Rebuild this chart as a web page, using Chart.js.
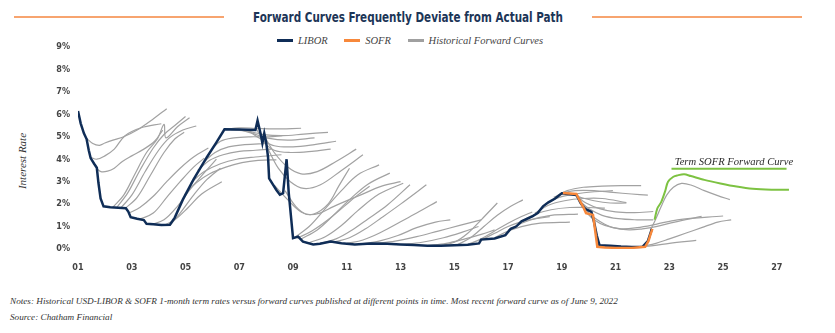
<!DOCTYPE html>
<html>
<head>
<meta charset="utf-8">
<script src="https://cdn.jsdelivr.net/npm/chart.js@4.4.0/dist/chart.umd.min.js"></script>
<style>
  body { margin: 0; width: 835px; height: 333px; background: #fff; position: relative; overflow: hidden; }
  .rule { position: absolute; top: 16px; height: 2px; background: #f7a46f; width: 210px; }
  #title { position: absolute; top: 8px; left: 408px; white-space: nowrap; transform-origin: 0 50%;
           font: bold 14px "Liberation Sans Narrow", "DejaVu Sans Condensed", sans-serif; color: #1c3557; line-height: 18px; }
  #legend { position: absolute; top: 34px; left: 0; width: 820px; text-align: center;
            font: italic 10.5px "Liberation Serif", serif; color: #444; line-height: 14px; }
  #legend span.item { margin: 0 7px; white-space: nowrap; }
  #legend span.mark { display: inline-block; width: 16px; height: 2.5px; vertical-align: middle; margin-right: 5px; position: relative; top: -1px; }
  #ytitle { position: absolute; left: 22px; top: 161px; white-space: nowrap; transform: translate(-50%, -50%) rotate(-90deg);
            font: italic 11px "Liberation Serif", serif; color: #333; }
  canvas { position: absolute; top: 0; left: 0; }
  .note { position: absolute; left: 10px; font: italic 9.2px "Liberation Serif", serif; color: #333; white-space: nowrap; }
</style>
</head>
<body>
<div class="rule" style="left:14px"></div>
<div class="rule" style="left:592px"></div>
<div id="title">Forward Curves Frequently Deviate from Actual Path</div>
<div id="legend">
  <span class="item"><span class="mark" style="background:#0f2d57"></span>LIBOR</span>
  <span class="item"><span class="mark" style="background:#f7883b"></span>SOFR</span>
  <span class="item"><span class="mark" style="background:#a0a0a0"></span>Historical Forward Curves</span>
</div>
<div id="ytitle">Interest Rate</div>
<canvas id="myChart" width="835" height="290"></canvas>
<div class="note" style="top:296px">Notes: Historical USD-LIBOR &amp; SOFR 1-month term rates versus forward curves published at different points in time. Most recent forward curve as of June 9, 2022</div>
<div class="note" style="top:312px">Source: Chatham Financial</div>

<script>
// squeeze the title to the width it has in the original
const title = document.getElementById('title');
const tw = title.getBoundingClientRect().width;
title.style.transform = 'translateX(-50%) scaleX(' + (310 / tw) + ')';
title.style.transformOrigin = '50% 50%';

// axis ticks
const xTickYears = [2001, 2003, 2005, 2007, 2009, 2011, 2013, 2015, 2017, 2019, 2021, 2023, 2025, 2027];
const yTickRates = [0, 1, 2, 3, 4, 5, 6, 7, 8, 9];

// 1-month LIBOR, [year, rate %]
const libor = [
  [2001.0,6.15],[2001.1,5.6],[2001.22,5.15],[2001.32,4.9],[2001.4,4.4],[2001.47,4.05],[2001.6,3.8],[2001.7,3.62],
  [2001.76,2.95],[2001.84,2.25],[2001.95,1.9],[2002.2,1.86],[2002.5,1.84],[2002.78,1.82],[2002.87,1.67],[2002.96,1.42],
  [2003.2,1.35],[2003.45,1.29],[2003.55,1.12],[2003.8,1.1],[2004.1,1.07],[2004.42,1.08],[2004.6,1.4],[2004.9,2.2],
  [2005.3,3.1],[2005.8,4.1],[2006.15,4.75],[2006.45,5.33],[2007.0,5.32],[2007.6,5.3],[2007.68,5.72],[2007.8,5.1],
  [2007.86,4.72],[2007.93,5.15],[2008.0,4.75],[2008.07,4.1],[2008.11,3.15],[2008.26,2.86],[2008.38,2.63],[2008.51,2.42],
  [2008.63,2.49],[2008.76,4.0],[2008.84,2.5],[2009.0,0.48],[2009.19,0.55],[2009.37,0.33],[2009.75,0.2],[2010.0,0.23],
  [2010.4,0.33],[2010.8,0.26],[2011.3,0.2],[2011.9,0.25],[2012.5,0.23],[2013.0,0.2],[2013.5,0.18],[2014.0,0.15],
  [2014.5,0.15],[2015.0,0.17],[2015.5,0.19],[2015.92,0.25],[2016.0,0.42],[2016.5,0.47],[2016.9,0.62],[2017.1,0.9],
  [2017.3,1.0],[2017.5,1.23],[2017.9,1.45],[2018.1,1.6],[2018.3,1.9],[2018.5,2.08],[2018.75,2.25],[2019.0,2.48],
  [2019.3,2.44],[2019.55,2.4],[2019.7,2.05],[2019.85,1.8],[2020.1,1.65],[2020.2,1.2],[2020.3,0.6],[2020.4,0.17],
  [2020.8,0.15],[2021.2,0.11],[2021.6,0.09],[2022.0,0.1],[2022.2,0.35],[2022.35,0.9]
];

// SOFR
const sofr = [
  [2019.04,2.49],[2019.54,2.45],[2019.62,2.26],[2019.79,1.89],[2019.9,1.6],[2020.16,1.52],[2020.22,1.0],[2020.32,0.1],
  [2020.6,0.07],[2021.0,0.05],[2021.6,0.05],[2022.1,0.1],[2022.22,0.35],[2022.29,0.62],[2022.37,0.9]
];

// term SOFR forward curve as of June 2022
const termSofr = [
  [2022.45,1.3],[2022.55,1.8],[2022.7,2.1],[2022.85,2.6],[2022.95,3.0],[2023.15,3.22],[2023.3,3.28],[2023.55,3.33],
  [2023.8,3.25],[2024.3,3.08],[2024.9,2.92],[2025.5,2.78],[2026.1,2.68],[2026.8,2.64],[2027.45,2.64]
];

// historical forward curves
const forwardCurves = [
  [[2001.3,4.95],[2001.55,4.7],[2001.8,4.62],[2002.0,4.72],[2002.3,4.85],[2002.7,5.0],[2003.2,5.3],[2003.75,5.75],[2004.3,6.25]],
  [[2001.45,4.1],[2001.7,4.0],[2002.0,4.15],[2002.35,4.45],[2002.75,5.05],[2003.35,5.4],[2004.1,5.58]],
  [[2001.68,3.6],[2001.85,3.45],[2002.1,3.47],[2002.35,3.6],[2002.65,3.9],[2003.0,4.15],[2003.45,4.45],[2003.85,4.8],[2004.15,5.3]],
  [[2002.3,1.86],[2002.7,2.4],[2003.1,3.3],[2003.55,4.3],[2003.95,4.9],[2004.2,5.55],[2004.27,4.95],[2004.7,5.45],[2005.15,5.85]],
  [[2002.45,1.86],[2002.85,2.5],[2003.3,3.5],[2003.8,4.5],[2004.2,5.1],[2004.6,5.5],[2005.0,5.9]],
  [[2002.6,1.84],[2003.0,2.4],[2003.5,3.45],[2004.0,4.4],[2004.4,4.95],[2004.9,5.3],[2005.4,5.48]],
  [[2002.75,1.8],[2003.2,2.3],[2003.7,3.3],[2004.2,4.3],[2004.6,4.9],[2004.95,5.2]],
  [[2002.9,1.6],[2003.3,1.85],[2003.8,2.35],[2004.3,3.0],[2004.8,3.6],[2005.3,4.1],[2005.85,4.5]],
  [[2003.3,1.33],[2003.8,1.6],[2004.3,2.3],[2004.8,3.0],[2005.3,3.65],[2005.7,4.05]],
  [[2003.7,1.08],[2004.2,1.3],[2004.7,1.9],[2005.2,2.7],[2005.7,3.4],[2006.15,4.0]],
  [[2004.2,1.06],[2004.6,1.3],[2005.1,1.85],[2005.6,2.45],[2006.35,3.0]],
  [[2004.45,1.1],[2004.8,1.6],[2005.3,2.4],[2005.8,3.1],[2006.3,3.6]],
  [[2004.95,2.4],[2005.4,2.95],[2005.9,3.35],[2006.5,3.65],[2007.1,3.85],[2007.7,3.95],[2008.38,3.97]],
  [[2005.2,2.95],[2005.7,3.45],[2006.3,3.8],[2006.9,4.0],[2007.6,4.1],[2008.57,4.2]],
  [[2005.45,3.5],[2005.9,3.95],[2006.4,4.2],[2007.0,4.35],[2007.6,4.4],[2008.2,4.45]],
  [[2005.7,3.9],[2006.1,4.3],[2006.6,4.55],[2007.2,4.65],[2008.0,4.7]],
  [[2005.95,4.4],[2006.3,4.8],[2006.8,4.95],[2007.4,5.0],[2008.1,5.0],[2008.6,5.05]],
  [[2006.45,5.33],[2007.0,5.4],[2007.6,5.38],[2008.3,5.35],[2009.3,5.38]],
  [[2006.7,5.32],[2007.3,5.25],[2007.9,5.1],[2008.6,5.05],[2009.4,5.12],[2010.3,5.2]],
  [[2007.0,5.32],[2007.5,5.15],[2008.0,4.95],[2008.8,4.85],[2009.8,4.95]],
  [[2007.3,5.3],[2007.8,4.9],[2008.3,4.6],[2009.0,4.55],[2009.8,4.65],[2010.6,4.8]],
  [[2007.6,5.45],[2007.9,4.8],[2008.3,4.4],[2008.9,4.3],[2009.7,4.35],[2010.4,4.45]],
  [[2007.9,5.1],[2008.3,4.3],[2008.8,3.65],[2009.3,3.35],[2009.9,3.45],[2010.6,3.9],[2011.35,4.45]],
  [[2008.05,4.5],[2008.45,3.6],[2008.9,3.0],[2009.4,2.7],[2010.0,2.85],[2010.8,3.5],[2011.6,4.2]],
  [[2008.3,2.85],[2008.8,2.2],[2009.3,1.65],[2009.75,1.55],[2010.3,2.0],[2010.7,2.8],[2011.1,3.6]],
  [[2008.7,2.6],[2009.1,1.9],[2009.5,1.55],[2010.0,1.6],[2010.5,1.89],[2011.5,2.4],[2012.3,2.8],[2013.0,3.0]],
  [[2009.05,0.5],[2009.6,1.0],[2010.2,1.8],[2010.8,2.6],[2011.4,3.3],[2012.2,3.75]],
  [[2009.15,0.48],[2009.7,0.8],[2010.3,1.3],[2010.9,1.9],[2011.4,2.4],[2011.85,2.8]],
  [[2009.3,0.45],[2009.9,0.85],[2010.5,1.5],[2011.1,2.2],[2011.8,2.9],[2012.6,3.38]],
  [[2009.6,0.28],[2010.2,0.55],[2010.8,1.05],[2011.4,1.7],[2012.2,2.45],[2013.1,2.93]],
  [[2010.0,0.25],[2010.6,0.45],[2011.2,0.85],[2011.8,1.35],[2012.5,1.95],[2013.35,2.86]],
  [[2010.5,0.3],[2011.1,0.5],[2011.7,0.9],[2012.3,1.4],[2013.0,2.0],[2013.96,2.86]],
  [[2011.0,0.25],[2011.6,0.4],[2012.2,0.7],[2012.9,1.15],[2013.6,1.6],[2014.35,2.11]],
  [[2011.5,0.22],[2012.2,0.35],[2012.9,0.6],[2013.6,0.95],[2014.3,1.2],[2014.85,1.3]],
  [[2012.0,0.24],[2012.8,0.35],[2013.6,0.55],[2014.4,0.8],[2015.2,1.05],[2016.0,1.3]],
  [[2013.0,0.2],[2013.8,0.3],[2014.6,0.5],[2015.3,0.75],[2015.9,1.0]],
  [[2014.0,0.15],[2014.7,0.25],[2015.4,0.45],[2016.0,0.65],[2016.5,0.85]],
  [[2014.5,0.15],[2015.0,0.3],[2015.5,0.7],[2016.0,1.3],[2016.6,2.05]],
  [[2015.1,0.18],[2015.6,0.5],[2016.1,1.0],[2016.6,1.5],[2017.1,1.9],[2017.55,2.19]],
  [[2015.5,0.2],[2016.0,0.45],[2016.5,0.8],[2017.0,1.15],[2017.5,1.45],[2017.9,1.65]],
  [[2016.0,0.4],[2016.5,0.7],[2017.0,1.0],[2017.6,1.25],[2018.55,1.44]],
  [[2016.5,0.5],[2017.0,0.8],[2017.5,1.0],[2018.2,1.15],[2019.3,1.2]],
  [[2017.0,0.85],[2017.5,1.15],[2018.0,1.35],[2018.6,1.5],[2019.6,1.55]],
  [[2017.5,1.25],[2018.0,1.55],[2018.6,1.75],[2019.3,1.85],[2020.0,1.85],[2020.6,1.82]],
  [[2018.0,1.6],[2018.5,1.95],[2019.1,2.15],[2019.8,2.25],[2020.5,2.25],[2021.4,2.07]],
  [[2018.4,2.0],[2018.9,2.3],[2019.5,2.45],[2020.2,2.55],[2020.9,2.6]],
  [[2018.7,2.3],[2019.2,2.6],[2019.8,2.75],[2020.5,2.8],[2021.2,2.82],[2021.95,2.82]],
  [[2018.95,2.47],[2019.5,2.6],[2020.2,2.6],[2020.9,2.52],[2021.6,2.45],[2022.2,2.4]],
  [[2019.3,2.45],[2019.7,2.3],[2020.2,2.15],[2020.8,2.05],[2021.4,2.05]],
  [[2019.55,2.35],[2019.9,2.05],[2020.4,1.8],[2021.0,1.65],[2021.7,1.62],[2022.4,1.67]],
  [[2019.65,2.15],[2020.0,1.8],[2020.5,1.5],[2021.1,1.35],[2021.8,1.3],[2022.4,1.3]],
  [[2019.75,1.95],[2020.05,1.55],[2020.45,1.2],[2020.9,0.95],[2021.5,0.85],[2022.0,0.9],[2022.5,1.0],[2023.2,1.2],[2024.2,1.45]],
  [[2019.9,1.65],[2020.2,1.3],[2020.6,1.05],[2021.2,0.9],[2021.8,0.95],[2022.5,1.1],[2023.3,1.3],[2025.0,1.47]],
  [[2022.3,0.85],[2022.5,1.35],[2022.7,1.9],[2022.9,2.4],[2023.15,2.75],[2023.45,2.92],[2023.8,2.85],[2024.3,2.6],[2024.8,2.38],[2025.25,2.2]],
  [[2022.0,0.12],[2022.5,0.25],[2023.0,0.45],[2023.6,0.7],[2024.2,0.95],[2024.8,1.2],[2025.3,1.3]],
  [[2021.8,0.1],[2022.4,0.15],[2023.0,0.25],[2024.0,0.38]]
];

const toXY = pts => pts.map(p => ({ x: p[0], y: p[1] }));
const tickFont = { family: '"Liberation Sans Narrow", "DejaVu Sans Condensed", sans-serif', size: 9, weight: 'bold' };

// label and underline for the term SOFR curve
const termLabel = {
  id: 'termLabel',
  afterDatasetsDraw(chart) {
    const { ctx, scales: { x, y } } = chart;
    ctx.save();
    ctx.font = 'italic 10.6px "Liberation Serif", serif';
    ctx.fillStyle = '#2b2b2b';
    ctx.textBaseline = 'alphabetic';
    ctx.fillText('Term SOFR Forward Curve', x.getPixelForValue(2023.2), y.getPixelForValue(3.75));
    ctx.strokeStyle = '#7dc242';
    ctx.lineWidth = 2;
    ctx.beginPath();
    ctx.moveTo(x.getPixelForValue(2023.08), y.getPixelForValue(3.57));
    ctx.lineTo(x.getPixelForValue(2027.36), y.getPixelForValue(3.57));
    ctx.stroke();
    ctx.restore();
  }
};

const datasets = forwardCurves.map(c => ({
  data: toXY(c), borderColor: '#a2a2a2', borderWidth: 1.2, pointRadius: 0, tension: 0.35, order: 3
}));
datasets.push({ data: toXY(termSofr), borderColor: '#7dc242', borderWidth: 2, pointRadius: 0, tension: 0.3, order: 2 });
datasets.push({ data: toXY(libor), borderColor: '#0f2d57', borderWidth: 2.5, pointRadius: 0, tension: 0, order: 1 });
datasets.push({ data: toXY(sofr), borderColor: '#f7883b', borderWidth: 2.5, pointRadius: 0, tension: 0, order: 0 });

new Chart(document.getElementById('myChart').getContext('2d'), {
  type: 'line',
  data: { datasets },
  options: {
    responsive: false,
    animation: false,
    layout: { padding: { top: 47, right: 42, bottom: 11, left: 0 } },
    plugins: { legend: { display: false }, tooltip: { enabled: false } },
    scales: {
      x: {
        type: 'linear', min: 2001, max: 2027.6,
        afterFit: s => { s.height = 30; },
        afterBuildTicks: axis => { axis.ticks = xTickYears.map(v => ({ value: v })); },
        ticks: { autoSkip: false, maxRotation: 0, padding: 13, color: '#444', font: tickFont,
                 callback: v => String(v % 100).padStart(2, '0') },
        grid: { display: false, drawTicks: false },
        border: { display: false }
      },
      y: {
        min: 0, max: 9,
        afterFit: s => { s.width = 78; },
        afterBuildTicks: axis => { axis.ticks = yTickRates.map(v => ({ value: v })); },
        ticks: { padding: 8, color: '#444', font: tickFont, callback: v => v + '%' },
        grid: { display: false, drawTicks: false },
        border: { display: false }
      }
    }
  },
  plugins: [termLabel]
});
</script>
</body>
</html>
